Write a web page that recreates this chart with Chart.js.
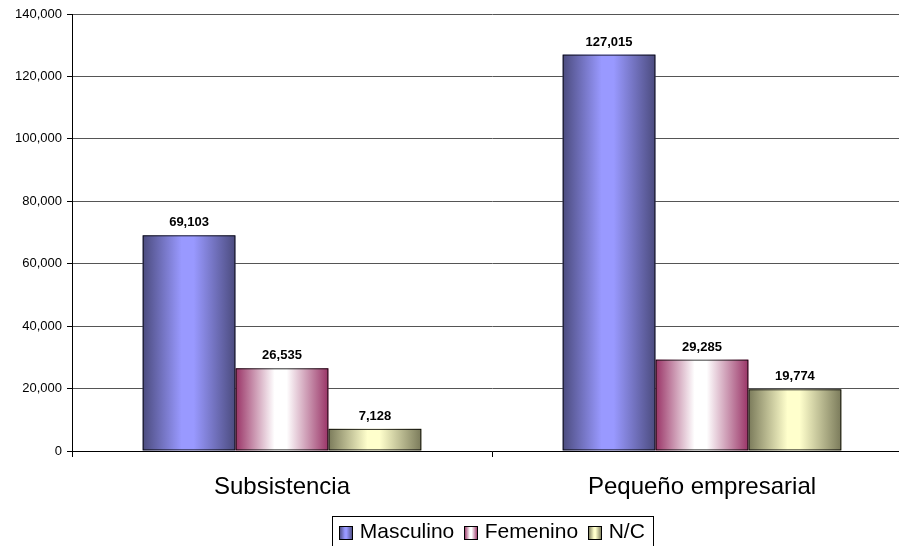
<!DOCTYPE html>
<html lang="es">
<head>
    <meta charset="UTF-8">
    <title>Subsistencia / Pequeño empresarial</title>
    <script src="https://cdn.jsdelivr.net/npm/chart.js"></script>
    <style>
        html, body { margin: 0; padding: 0; background: #fff; overflow: hidden; }
    </style>
</head>
<body>
    <canvas id="chart" width="912" height="553"></canvas>

    <script>
        const categories = ['Subsistencia', 'Pequeño empresarial'];
        const masculino = [69103, 127015];
        const femenino = [26535, 29285];
        const noContesta = [7128, 19774];
        const seriesNames = ['Masculino', 'Femenino', 'N/C'];

        const fontFamily = "Arial, 'Liberation Sans', sans-serif";

        // edge / middle colours for the horizontal gradient of every bar
        const shades = [
            { edge: '#4b4b7e', mid: '#9999ff' },
            { edge: '#993366', mid: '#ffffff' },
            { edge: '#7a7a5a', mid: '#ffffcc' }
        ];

        function barGradient(ctx, left, right, s) {
            const g = ctx.createLinearGradient(left, 0, right, 0);
            g.addColorStop(0, s.edge);
            g.addColorStop(0.42, s.mid);
            g.addColorStop(0.55, s.mid);
            g.addColorStop(1, s.edge);
            return g;
        }

        // fill the bars with gradients before chart.js strokes their border
        const gradientBars = {
            id: 'gradientBars',
            beforeDatasetsDraw(chart) {
                const ctx = chart.ctx;
                chart.data.datasets.forEach((ds, i) => {
                    chart.getDatasetMeta(i).data.forEach(bar => {
                        const p = bar.getProps(['x', 'y', 'base', 'width'], true);
                        const left = p.x - p.width / 2;
                        ctx.save();
                        ctx.fillStyle = barGradient(ctx, left, left + p.width, shades[i]);
                        ctx.fillRect(left, p.y, p.width, p.base - p.y);
                        ctx.restore();
                    });
                });
            },
            afterDatasetsDraw(chart) {
                const ctx = chart.ctx;
                ctx.save();
                ctx.font = 'bold 13px ' + fontFamily;
                ctx.fillStyle = '#000';
                ctx.textAlign = 'center';
                ctx.textBaseline = 'alphabetic';
                chart.data.datasets.forEach((ds, i) => {
                    chart.getDatasetMeta(i).data.forEach((bar, j) => {
                        ctx.fillText(ds.data[j].toLocaleString('en-US'), bar.x, bar.y - 9);
                    });
                });
                ctx.restore();
            }
        };

        // center the legend under the plot area, then frame it with gradient swatches
        const legendFrame = {
            id: 'legendFrame',
            afterLayout(chart) {
                const lg = chart.legend;
                if (!lg) return;
                lg.left = chart.chartArea.left;
                lg.right = chart.chartArea.right;
                lg.width = lg.right - lg.left;
            },
            afterDraw(chart) {
                const lg = chart.legend;
                if (!lg || !lg.legendHitBoxes.length) return;
                const ctx = chart.ctx;
                const boxes = lg.legendHitBoxes;
                const first = boxes[0];
                const last = boxes[boxes.length - 1];
                ctx.save();
                boxes.forEach((hb, i) => {
                    const bx = Math.round(hb.left) + 0.5;
                    const by = Math.round(hb.top + (hb.height - 13) / 2) + 0.5;
                    ctx.fillStyle = barGradient(ctx, bx, bx + 13, shades[i]);
                    ctx.fillRect(bx, by, 13, 13);
                    ctx.strokeStyle = '#000';
                    ctx.lineWidth = 1;
                    ctx.strokeRect(bx, by, 13, 13);
                });
                ctx.strokeStyle = '#000';
                ctx.lineWidth = 1;
                const l = Math.round(first.left - 7) + 0.5;
                const r = Math.round(last.left + last.width + 8) + 0.5;
                const t = Math.round(first.top - 6) + 0.5;
                const b = Math.round(first.top + first.height + 14) + 0.5;
                ctx.strokeRect(l, t, r - l, b - t);
                ctx.restore();
            }
        };

        new Chart(document.getElementById('chart'), {
            type: 'bar',
            data: {
                labels: categories,
                datasets: [masculino, femenino, noContesta].map((values, i) => ({
                    label: seriesNames[i],
                    data: values,
                    backgroundColor: 'rgba(0,0,0,0)',
                    borderColor: '#000',
                    borderWidth: 1,
                    borderSkipped: false,
                    categoryPercentage: 0.664,
                    barPercentage: 1
                }))
            },
            options: {
                responsive: false,
                animation: false,
                layout: { padding: { top: 14, left: 0, right: 0, bottom: 0 } },
                plugins: {
                    tooltip: { enabled: false },
                    legend: {
                        position: 'bottom',
                        labels: {
                            font: { family: fontFamily, size: 21 },
                            color: '#000',
                            boxWidth: 10,
                            boxHeight: 10,
                            padding: 10,
                            generateLabels(chart) {
                                return chart.data.datasets.map((ds, i) => ({
                                    text: ds.label,
                                    fillStyle: 'rgba(0,0,0,0)',
                                    strokeStyle: 'rgba(0,0,0,0)',
                                    lineWidth: 0,
                                    datasetIndex: i
                                }));
                            }
                        }
                    }
                },
                scales: {
                    x: {
                        grid: {
                            offset: true,
                            drawOnChartArea: false,
                            tickLength: 6,
                            color: '#000'
                        },
                        border: { color: '#000' },
                        ticks: {
                            font: { family: fontFamily, size: 24 },
                            color: '#000',
                            padding: 16
                        },
                        afterFit(scale) { scale.height = 61; }
                    },
                    y: {
                        min: 0,
                        max: 140000,
                        grid: {
                            color: '#555',
                            tickColor: '#000',
                            tickLength: 5
                        },
                        border: { color: '#000' },
                        ticks: {
                            stepSize: 20000,
                            font: { family: fontFamily, size: 13 },
                            color: '#000',
                            padding: 5,
                            callback: v => v.toLocaleString('en-US')
                        },
                        afterFit(scale) { scale.width = 72; }
                    }
                }
            },
            plugins: [gradientBars, legendFrame]
        });
    </script>
</body>
</html>
